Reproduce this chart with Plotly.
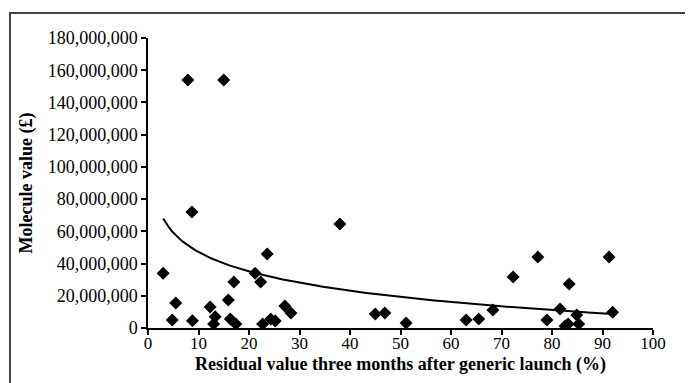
import numpy as np
import plotly.graph_objects as go

# Residual value three months after generic launch (%)
residual_pct = [3.0, 4.8, 5.5, 7.9, 8.7, 8.8, 12.3, 13.3, 13.0, 15.0,
                15.9, 17.0, 16.3, 17.4, 21.2, 22.3, 23.6, 22.7, 24.3, 25.2,
                27.1, 28.3, 38.0, 45.0, 46.9, 51.1, 63.0, 65.5, 68.3, 72.3,
                77.2, 79.0, 81.6, 82.6, 83.2, 83.4, 84.9, 85.3, 91.3, 92.0]
# Molecule value (GBP)
molecule_value = [34.0e6, 5.0e6, 15.5e6, 154.0e6, 72.0e6, 4.5e6, 13.0e6, 7.0e6, 2.5e6, 154.0e6,
                  17.4e6, 28.5e6, 5.6e6, 2.5e6, 34.0e6, 28.5e6, 46.0e6, 2.5e6, 5.6e6, 4.3e6,
                  13.6e6, 9.3e6, 64.5e6, 8.7e6, 9.3e6, 3.1e6, 5.0e6, 5.6e6, 11.2e6, 31.7e6,
                  44.0e6, 5.0e6, 11.8e6, 1.2e6, 2.5e6, 27.3e6, 8.0e6, 2.5e6, 44.0e6, 9.8e6]

# Logarithmic trend line y = A*ln(x) + B (coefficients)
TREND_A = -17.32e6
TREND_B = 87.03e6

x_ticks = list(range(0, 101, 10))
y_ticks = list(range(0, 180_000_001, 20_000_000))

tx = np.linspace(min(residual_pct), max(residual_pct), 200)
ty = TREND_A * np.log(tx) + TREND_B

FONT = "Liberation Serif"

# page body has an 8px margin, so the figure is 8px smaller than the window
W, H = 685, 375
L, R, T, B = 140, 40, 30, 55
PW, PH = W - L - R, H - T - B

fig = go.Figure()
fig.add_trace(go.Scatter(x=tx, y=ty, mode="lines",
                         line=dict(color="black", width=2), hoverinfo="skip"))
fig.add_trace(go.Scatter(x=residual_pct, y=molecule_value, mode="markers",
                         marker=dict(symbol="diamond", size=10, color="black")))

fig.update_layout(
    width=W, height=H,
    margin=dict(l=L, r=R, t=T, b=B, autoexpand=False),
    paper_bgcolor="white", plot_bgcolor="white",
    showlegend=False,
    font=dict(family=FONT, color="black"),
    xaxis=dict(range=[0, 100], tickvals=x_ticks, showgrid=False, zeroline=False,
               automargin=False,
               showline=True, linecolor="black", linewidth=1.5,
               ticks="outside", ticklen=5, tickcolor="black", tickwidth=1.5,
               ticklabelstandoff=-6,
               tickfont=dict(size=17, family=FONT),
               title=dict(text="<b>Residual value three months after generic launch (%)</b>",
                          font=dict(size=18, family=FONT), standoff=5)),
    yaxis=dict(range=[0, 180_000_000], tickvals=y_ticks, tickformat=",d",
               showgrid=False, zeroline=False,
               automargin=False,
               showline=True, linecolor="black", linewidth=1.5,
               ticks="outside", ticklen=5, tickcolor="black", tickwidth=1.5,
               tickfont=dict(size=18, family=FONT),
               title=dict(text="<b>Molecule value (£)</b>",
                          font=dict(size=18, family=FONT), standoff=10)),
    shapes=[dict(type="rect", xref="paper", yref="paper",
                 x0=(2 - L) / PW, x1=(W + 20 - L) / PW,
                 y0=-(B + 20) / PH, y1=(PH + T - 5) / PH,
                 line=dict(color="#444444", width=2), layer="below")],
)

fig.write_html("out.html")
